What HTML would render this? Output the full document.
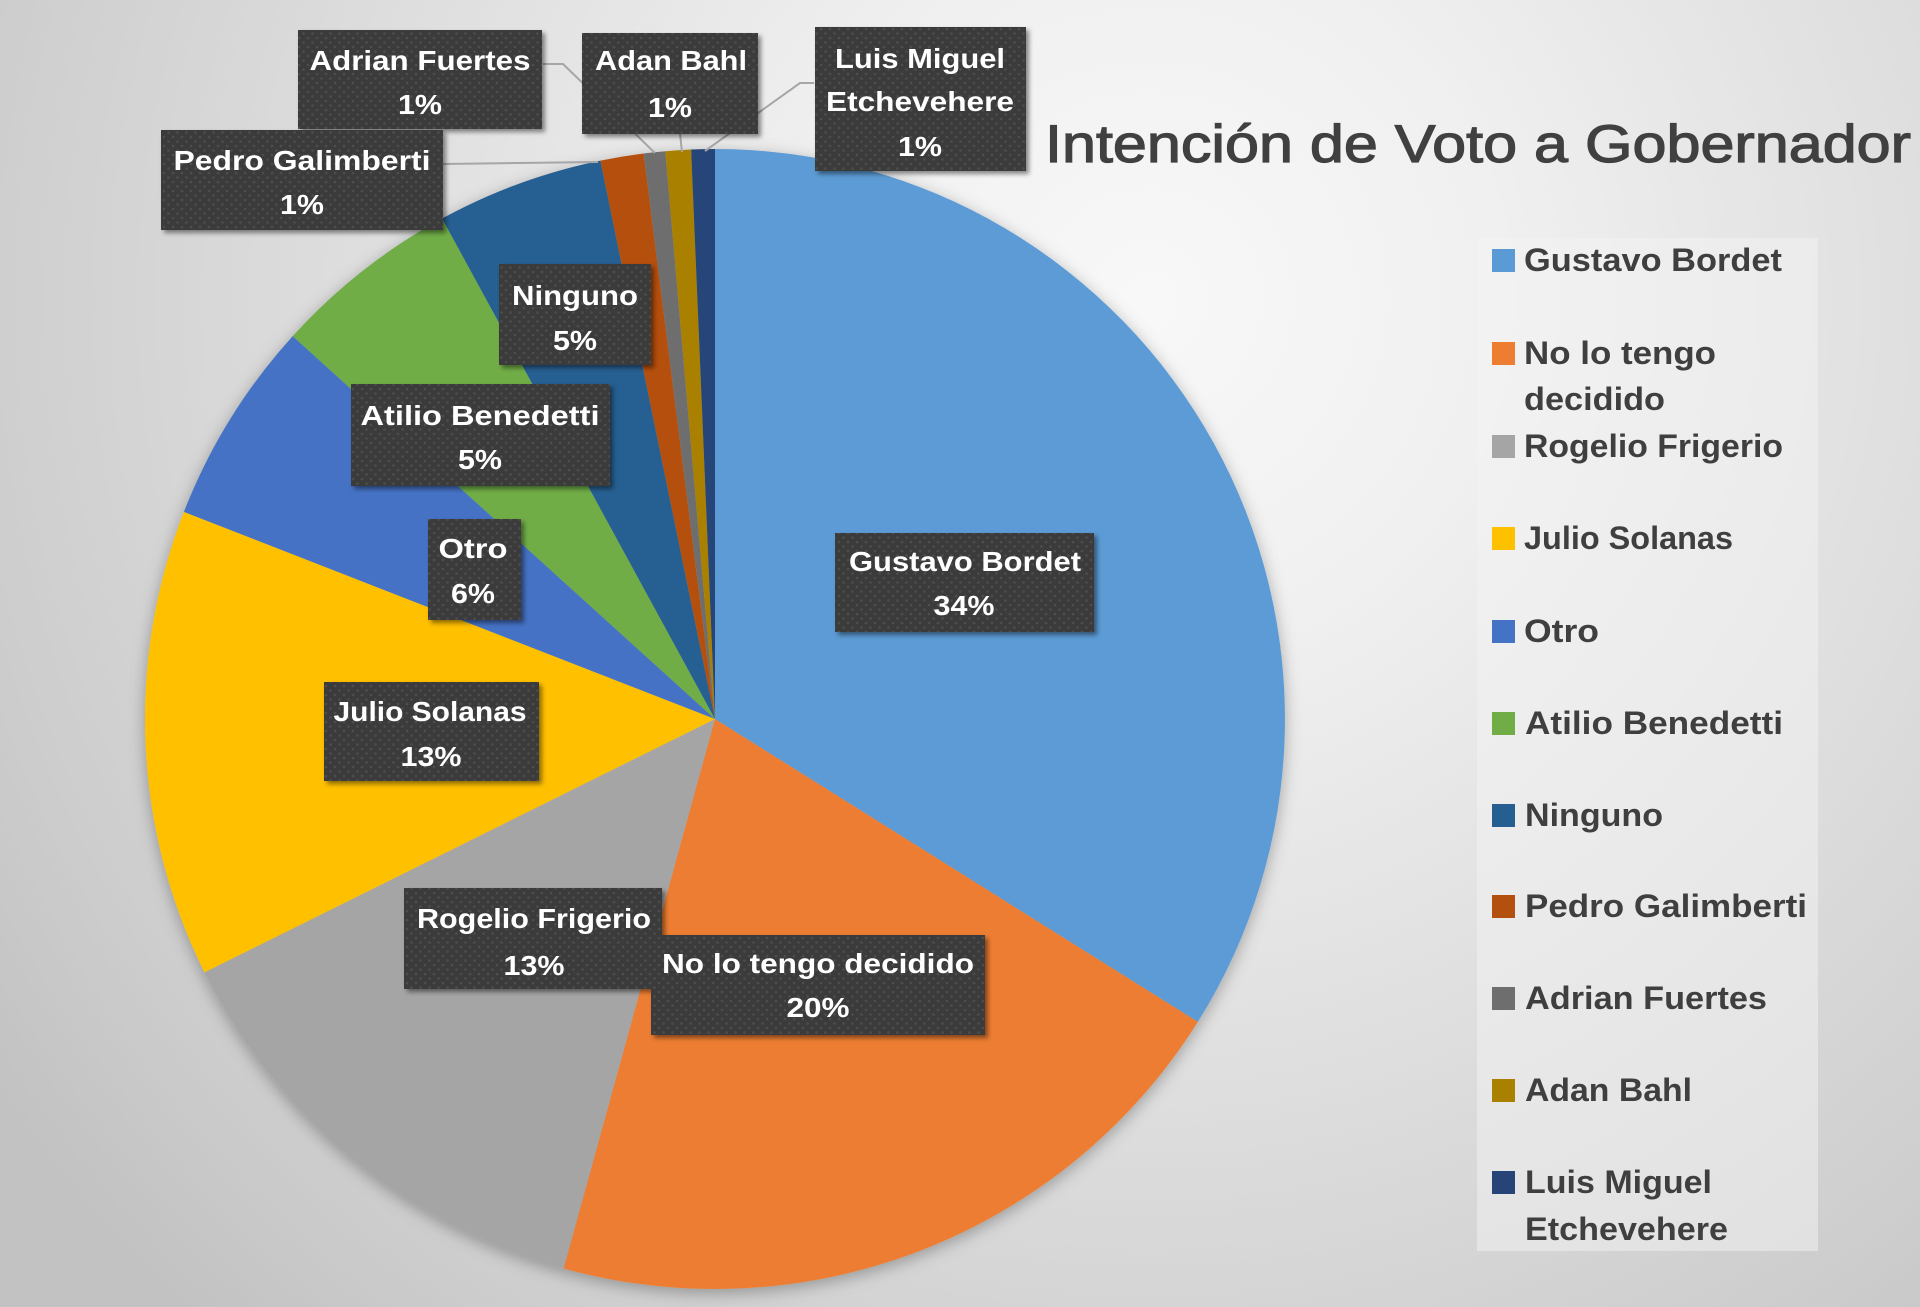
<!DOCTYPE html>
<html>
<head>
<meta charset="utf-8">
<style>
  html, body { margin: 0; padding: 0; }
  body { width: 1920px; height: 1307px; overflow: hidden; background: #d8d8d8; }
  svg { display: block; }
  .lbl { font-family: "Liberation Sans", Arial, sans-serif; font-weight: bold; font-size: 28px; fill: #ffffff; }
  .leg { font-family: "Liberation Sans", Arial, sans-serif; font-weight: bold; font-size: 32px; fill: #3f3f3f; }
  .ttl { font-family: "Liberation Sans", Arial, sans-serif; font-size: 53px; fill: #404040; stroke: #404040; stroke-width: 1.2px; }
</style>
</head>
<body>
<svg width="1920" height="1307" viewBox="0 0 1920 1307" xmlns="http://www.w3.org/2000/svg">
  <defs>
    <radialGradient id="bg" cx="1150" cy="300" r="1400" gradientUnits="userSpaceOnUse">
      <stop offset="0" stop-color="#f8f8f8"/>
      <stop offset="0.25" stop-color="#f0f0f0"/>
      <stop offset="0.55" stop-color="#dfdfdf"/>
      <stop offset="0.85" stop-color="#cdcdcd"/>
      <stop offset="1" stop-color="#c2c2c2"/>
    </radialGradient>
    <pattern id="dots" x="0" y="0" width="9" height="9" patternUnits="userSpaceOnUse">
      <rect x="0" y="0" width="9" height="9" fill="#3a3a3a"/>
      <circle cx="2" cy="2" r="1.3" fill="#4e4e4e"/>
      <circle cx="6.5" cy="6.5" r="1.3" fill="#4e4e4e"/>
    </pattern>
    <filter id="pieShadow" x="-10%" y="-10%" width="120%" height="120%">
      <feDropShadow dx="0" dy="4" stdDeviation="8" flood-color="#000" flood-opacity="0.3"/>
    </filter>
    <filter id="boxShadow" x="-10%" y="-10%" width="130%" height="140%">
      <feDropShadow dx="3" dy="3" stdDeviation="2.5" flood-color="#000" flood-opacity="0.45"/>
    </filter>
  </defs>

  <rect x="0" y="0" width="1920" height="1307" fill="url(#bg)"/>

  <text class="ttl" x="1045" y="162" textLength="866" lengthAdjust="spacingAndGlyphs">Intención de Voto a Gobernador</text>

  <g filter="url(#pieShadow)">
    <path d="M715,719 L715,149 A570,570 0 0 1 1197.8,1021.9 Z" fill="#5B9BD5"/>
    <path d="M715,719 L1197.8,1021.9 A570,570 0 0 1 563.6,1268.5 Z" fill="#ED7D31"/>
    <path d="M715,719 L563.6,1268.5 A570,570 0 0 1 204.5,972.4 Z" fill="#A5A5A5"/>
    <path d="M715,719 L204.5,972.4 A570,570 0 0 1 183.9,511.9 Z" fill="#FFC000"/>
    <path d="M715,719 L183.9,511.9 A570,570 0 0 1 292.7,336.1 Z" fill="#4472C4"/>
    <path d="M715,719 L292.7,336.1 A570,570 0 0 1 442.1,218.5 Z" fill="#70AD47"/>
    <path d="M715,719 L442.1,218.5 A570,570 0 0 1 600.4,160.6 Z" fill="#255E91"/>
    <path d="M715,719 L600.4,160.6 A570,570 0 0 1 643.6,153.5 Z" fill="#B4500F"/>
    <path d="M715,719 L643.6,153.5 A570,570 0 0 1 665.3,151.2 Z" fill="#6E6E6E"/>
    <path d="M715,719 L665.3,151.2 A570,570 0 0 1 691.1,149.5 Z" fill="#AA8000"/>
    <path d="M715,719 L691.1,149.5 A570,570 0 0 1 715,149 Z" fill="#264478"/>
  </g>

  <g stroke="#a6a6a6" stroke-width="2" fill="none">
    <polyline points="543,64 563,64 655,153"/>
    <polyline points="680,134 682,152"/>
    <polyline points="814,83 800,83 705,151"/>
    <polyline points="443,164 598,162"/>
  </g>

  <g filter="url(#boxShadow)">
    <rect x="298" y="30" width="244" height="99" fill="url(#dots)"/>
    <rect x="582" y="33" width="176" height="101" fill="url(#dots)"/>
    <rect x="815" y="27" width="211" height="144" fill="url(#dots)"/>
    <rect x="161" y="130" width="282" height="100" fill="url(#dots)"/>
    <rect x="499" y="264" width="152" height="101" fill="url(#dots)"/>
    <rect x="351" y="384" width="259" height="102" fill="url(#dots)"/>
    <rect x="428" y="519" width="93" height="101" fill="url(#dots)"/>
    <rect x="835" y="533" width="259" height="99" fill="url(#dots)"/>
    <rect x="324" y="682" width="215" height="99" fill="url(#dots)"/>
    <rect x="404" y="888" width="258" height="101" fill="url(#dots)"/>
    <rect x="651" y="935" width="334" height="100" fill="url(#dots)"/>
  </g>

  <g text-anchor="middle">
    <text class="lbl" x="420" y="70" textLength="221" lengthAdjust="spacingAndGlyphs">Adrian Fuertes</text>
    <text class="lbl" x="420" y="114" textLength="44" lengthAdjust="spacingAndGlyphs">1%</text>

    <text class="lbl" x="671" y="70" textLength="152" lengthAdjust="spacingAndGlyphs">Adan Bahl</text>
    <text class="lbl" x="670" y="117" textLength="44" lengthAdjust="spacingAndGlyphs">1%</text>

    <text class="lbl" x="920" y="68" textLength="170" lengthAdjust="spacingAndGlyphs">Luis Miguel</text>
    <text class="lbl" x="920" y="111" textLength="188" lengthAdjust="spacingAndGlyphs">Etchevehere</text>
    <text class="lbl" x="920" y="156" textLength="44" lengthAdjust="spacingAndGlyphs">1%</text>

    <text class="lbl" x="302" y="170" textLength="257" lengthAdjust="spacingAndGlyphs">Pedro Galimberti</text>
    <text class="lbl" x="302" y="214" textLength="44" lengthAdjust="spacingAndGlyphs">1%</text>

    <text class="lbl" x="575" y="305" textLength="126" lengthAdjust="spacingAndGlyphs">Ninguno</text>
    <text class="lbl" x="575" y="350" textLength="44" lengthAdjust="spacingAndGlyphs">5%</text>

    <text class="lbl" x="480" y="425" textLength="239" lengthAdjust="spacingAndGlyphs">Atilio Benedetti</text>
    <text class="lbl" x="480" y="469" textLength="44" lengthAdjust="spacingAndGlyphs">5%</text>

    <text class="lbl" x="473" y="558" textLength="69" lengthAdjust="spacingAndGlyphs">Otro</text>
    <text class="lbl" x="473" y="603" textLength="44" lengthAdjust="spacingAndGlyphs">6%</text>

    <text class="lbl" x="965" y="571" textLength="232" lengthAdjust="spacingAndGlyphs">Gustavo Bordet</text>
    <text class="lbl" x="964" y="615" textLength="61" lengthAdjust="spacingAndGlyphs">34%</text>

    <text class="lbl" x="430" y="721" textLength="193" lengthAdjust="spacingAndGlyphs">Julio Solanas</text>
    <text class="lbl" x="431" y="766" textLength="61" lengthAdjust="spacingAndGlyphs">13%</text>

    <text class="lbl" x="534" y="928" textLength="234" lengthAdjust="spacingAndGlyphs">Rogelio Frigerio</text>
    <text class="lbl" x="534" y="975" textLength="61" lengthAdjust="spacingAndGlyphs">13%</text>

    <text class="lbl" x="818" y="973" textLength="312" lengthAdjust="spacingAndGlyphs">No lo tengo decidido</text>
    <text class="lbl" x="818" y="1017" textLength="63" lengthAdjust="spacingAndGlyphs">20%</text>
  </g>

  <rect x="1477" y="238" width="341" height="1013" fill="#f4f4f4" fill-opacity="0.5"/>
  <g>
    <rect x="1492" y="249" width="23" height="23" fill="#5B9BD5"/>
    <text class="leg" x="1524" y="271" textLength="258" lengthAdjust="spacingAndGlyphs">Gustavo Bordet</text>

    <rect x="1492" y="342" width="23" height="23" fill="#ED7D31"/>
    <text class="leg" x="1524" y="364" textLength="192" lengthAdjust="spacingAndGlyphs">No lo tengo</text>
    <text class="leg" x="1524" y="410" textLength="141" lengthAdjust="spacingAndGlyphs">decidido</text>

    <rect x="1492" y="435" width="23" height="23" fill="#A5A5A5"/>
    <text class="leg" x="1524" y="457" textLength="259" lengthAdjust="spacingAndGlyphs">Rogelio Frigerio</text>

    <rect x="1492" y="527" width="23" height="23" fill="#FFC000"/>
    <text class="leg" x="1524" y="549" textLength="209" lengthAdjust="spacingAndGlyphs">Julio Solanas</text>

    <rect x="1492" y="620" width="23" height="23" fill="#4472C4"/>
    <text class="leg" x="1524" y="642" textLength="75" lengthAdjust="spacingAndGlyphs">Otro</text>

    <rect x="1492" y="712" width="23" height="23" fill="#70AD47"/>
    <text class="leg" x="1525" y="734" textLength="258" lengthAdjust="spacingAndGlyphs">Atilio Benedetti</text>

    <rect x="1492" y="804" width="23" height="23" fill="#255E91"/>
    <text class="leg" x="1525" y="826" textLength="138" lengthAdjust="spacingAndGlyphs">Ninguno</text>

    <rect x="1492" y="895" width="23" height="23" fill="#B4500F"/>
    <text class="leg" x="1525" y="917" textLength="282" lengthAdjust="spacingAndGlyphs">Pedro Galimberti</text>

    <rect x="1492" y="987" width="23" height="23" fill="#6E6E6E"/>
    <text class="leg" x="1525" y="1009" textLength="242" lengthAdjust="spacingAndGlyphs">Adrian Fuertes</text>

    <rect x="1492" y="1079" width="23" height="23" fill="#AA8000"/>
    <text class="leg" x="1525" y="1101" textLength="167" lengthAdjust="spacingAndGlyphs">Adan Bahl</text>

    <rect x="1492" y="1171" width="23" height="23" fill="#264478"/>
    <text class="leg" x="1525" y="1193" textLength="187" lengthAdjust="spacingAndGlyphs">Luis Miguel</text>
    <text class="leg" x="1525" y="1240" textLength="203" lengthAdjust="spacingAndGlyphs">Etchevehere</text>
  </g>
</svg>
</body>
</html>
